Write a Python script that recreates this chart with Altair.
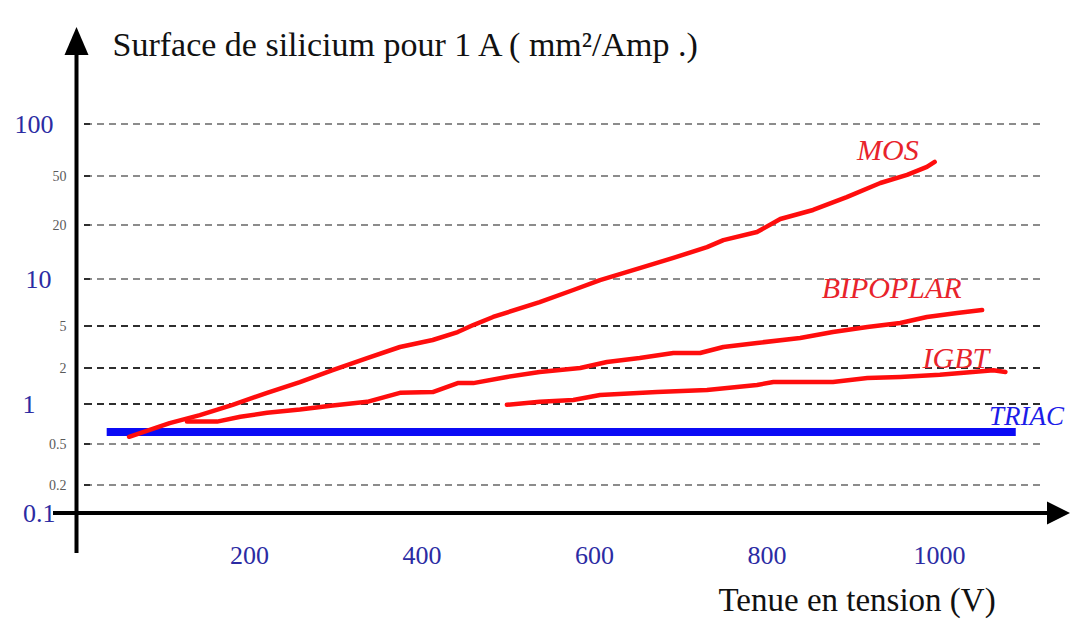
import altair as alt
import pandas as pd

# Voltage rating (V) and silicon area per ampere (mm²/A) along each device curve
mos_v = [61, 108, 143, 181, 221, 259, 297, 337, 375, 413, 442, 460, 483, 537,
         576, 607, 653, 692, 731, 750, 789, 816, 854, 893, 932, 963, 986, 995]
mos_s = [0.59, 0.76, 0.86, 0.99, 1.31, 1.61, 1.94, 2.71, 3.5, 4.0, 4.57, 5.1,
         5.96, 7.55, 8.83, 9.89, 12.0, 13.9, 15.9, 17.2, 18.7, 23.7, 29.2, 37.1,
         45.7, 51.0, 58.7, 63.5]
bip_v = [128, 163, 190, 221, 259, 297, 337, 375, 413, 442, 460, 499, 537, 584,
         615, 653, 692, 723, 750, 789, 839, 877, 917, 955, 986, 1021, 1050]
bip_s = [0.78, 0.78, 0.84, 0.89, 0.93, 0.98, 1.06, 1.31, 1.33, 1.58, 1.58, 1.75,
         1.89, 2.0, 2.43, 2.71, 3.07, 3.07, 3.5, 3.79, 4.14, 4.57, 4.93, 5.32,
         5.96, 6.38, 6.70]
igbt_v = [499, 537, 576, 607, 673, 731, 789, 808, 837, 877, 917, 955, 1001,
          1039, 1063, 1077]
igbt_s = [0.99, 1.06, 1.11, 1.25, 1.33, 1.39, 1.53, 1.61, 1.61, 1.61, 1.72,
          1.75, 1.81, 1.89, 1.94, 1.89]
triac_v = [35, 1089]
triac_s = [0.65, 0.65]

# Curve names and where their labels sit (V, mm²/A)
label_names = ["MOS", "BIPOPLAR", "IGBT", "TRIAC"]
label_v = [905, 864, 981, 1058]
label_s = [65.4, 7.98, 2.0, 0.74]

# Axis ticks
y_ticks = [0.1, 0.2, 0.5, 1, 2, 5, 10, 20, 50, 100]
y_major = [100, 10, 1, 0.1]
grid_vals = [100, 50, 20, 10, 5, 2, 1, 0.5, 0.2]
grid_dark = [5, 2, 1]
x_ticks = [200, 400, 600, 800, 1000]

SERIF = "Liberation Serif"
RED = "#ff0d0d"
BLUE = "#0b0bf5"
LABEL_BLUE = "#2b2ba3"

curves = pd.DataFrame(
    [{"device": "MOS", "v": v, "s": s} for v, s in zip(mos_v, mos_s)]
    + [{"device": "BIPOPLAR", "v": v, "s": s} for v, s in zip(bip_v, bip_s)]
    + [{"device": "IGBT", "v": v, "s": s} for v, s in zip(igbt_v, igbt_s)]
)
triac = pd.DataFrame({"device": "TRIAC", "v": triac_v, "s": triac_s})
labels = pd.DataFrame({"device": label_names, "v": label_v, "s": label_s})
grid = pd.DataFrame({"g": grid_vals})
blank = alt.Data(values=[{}])

# Hand-spaced decade ruler: each tick value gets its own height
yscale = alt.Scale(
    type="linear",
    domain=y_ticks,
    range=[493, 465, 424, 384, 348, 306, 259, 205, 156, 104],
    zero=False,
    nice=False,
)
xscale = alt.Scale(domain=[0, 1000], range=[0.5, 863], zero=False, nice=False)

major_test = "indexof([100, 10, 1, 0.1], datum.value) >= 0"
dark_test = "indexof([5, 2, 1], datum.g) >= 0"

y_axis = alt.Axis(
    values=y_ticks,
    labelExpr="datum.value + ''",
    grid=False,
    domain=False,
    ticks=False,
    labelOverlap=False,
    labelBound=False,
    labelFlush=False,
    labelFont=SERIF,
    labelBaseline="middle",
    labelFontSize={"condition": {"test": major_test, "value": 26}, "value": 14},
    labelColor={"condition": {"test": major_test, "value": LABEL_BLUE}, "value": "#5a5a5a"},
    labelPadding={
        "condition": [
            {"test": "datum.value == 1", "value": 41},
            {"test": "datum.value == 0.1", "value": 21},
            {"test": "datum.value == 10", "value": 25},
            {"test": "datum.value == 100", "value": 23},
        ],
        "value": 10,
    },
    title="Surface de silicium pour 1 A  ( mm²/Amp .)",
    titleAngle=0,
    titleX=36,
    titleY=35,
    titleAlign="left",
    titleBaseline="alphabetic",
    titleFont=SERIF,
    titleFontSize=34,
    titleFontWeight="normal",
    titleColor="#111111",
)

x_axis = alt.Axis(
    values=x_ticks,
    labelExpr="datum.value + ''",
    grid=False,
    domain=False,
    ticks=False,
    labelFont=SERIF,
    labelFontSize=26,
    labelColor=LABEL_BLUE,
    labelPadding=29,
    labelOverlap=False,
    labelFlush=False,
    title="Tenue en tension (V)",
    titleX=642,
    titleY=97,
    titleAlign="left",
    titleBaseline="alphabetic",
    titleFont=SERIF,
    titleFontSize=33,
    titleFontWeight="normal",
    titleColor="#111111",
)


def xe(field):
    return alt.X(field, scale=xscale, axis=x_axis)


def ye(field):
    return alt.Y(field, scale=yscale, axis=y_axis)


# Dashed horizontal guides, darker for 1, 2 and 5
guides = alt.Chart(grid).mark_rule(strokeWidth=2, strokeDash=[7, 5]).encode(
    y=ye("g:Q"),
    x=alt.value(9),
    x2=alt.value(967),
    color=alt.condition(dark_test, alt.value("#2e2e2e"), alt.value("#8c8c8c")),
)
guide_ticks = alt.Chart(grid).mark_rule(strokeWidth=2, color="#2e2e2e").encode(
    y=ye("g:Q"),
    x=alt.value(8),
    x2=alt.value(14),
)

triac_line = alt.Chart(triac).mark_line(color=BLUE, strokeWidth=8, strokeCap="butt").encode(
    x=xe("v:Q"),
    y=ye("s:Q"),
)

red_lines = alt.Chart(curves).mark_line(
    color=RED, strokeWidth=4.5, strokeCap="round", strokeJoin="round"
).encode(
    x=xe("v:Q"),
    y=ye("s:Q"),
    detail="device:N",
)

curve_labels = alt.Chart(labels).mark_text(
    font=SERIF, fontStyle="italic", align="left", baseline="alphabetic"
).encode(
    x=xe("v:Q"),
    y=ye("s:Q"),
    text="device:N",
    size=alt.condition("datum.device == 'TRIAC'", alt.value(27), alt.value(30)),
    color=alt.Color(
        "device:N",
        scale=alt.Scale(domain=label_names, range=["#e8232b", "#e8232b", "#e8232b", "#1c1ce8"]),
        legend=None,
    ),
)

# Axis arrows
y_line = alt.Chart(blank).mark_rule(color="black", strokeWidth=4).encode(
    x=alt.value(0.5), y=alt.value(30), y2=alt.value(533)
)
x_line = alt.Chart(blank).mark_rule(color="black", strokeWidth=4).encode(
    x=alt.value(-23), x2=alt.value(975), y=alt.value(493)
)
y_head = alt.Chart(blank).mark_point(
    shape="M0,-1L0.857,1L-0.857,1Z", filled=True, color="black", opacity=1, size=784
).encode(x=alt.value(0.5), y=alt.value(21))
x_head = alt.Chart(blank).mark_point(
    shape="M1,0L-0.917,0.958L-0.917,-0.958Z", filled=True, color="black", opacity=1, size=576
).encode(x=alt.value(982), y=alt.value(493))

chart = alt.layer(
    guides, guide_ticks, triac_line, red_lines, curve_labels,
    y_line, x_line, y_head, x_head,
).properties(
    width=995,
    height=493,
    autosize=alt.AutoSizeParams(type="none"),
    padding={"left": 76, "top": 20, "right": 0, "bottom": 107},
    background="white",
).configure_view(stroke=None)

chart.save("out.html", embed_options={"renderer": "svg", "actions": False})
